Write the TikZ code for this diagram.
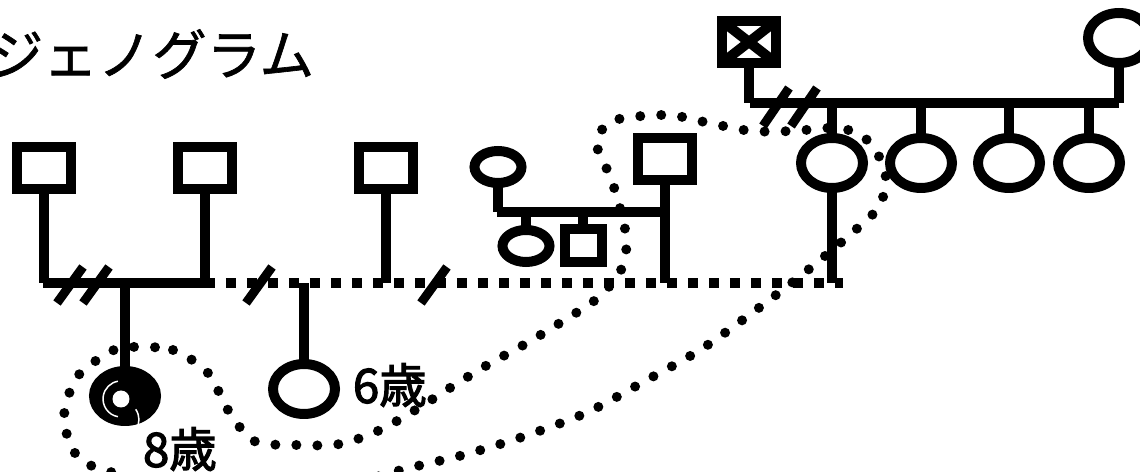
\documentclass[tikz,border=0pt]{standalone}
\usepackage{fontspec}
\newfontfamily\jpfont[FakeBold=1.2]{Noto Sans CJK JP}
\newfontfamily\jpbold[FakeBold=2.5]{Noto Sans CJK JP}
\usetikzlibrary{shapes.geometric}

\begin{document}
\begin{tikzpicture}[
  x=0.02cm, y=-0.02cm,
  every node/.style={inner sep=0pt, outer sep=0pt},
  male/.style={rectangle, draw, line width=0.2cm, minimum width=1.08cm, minimum height=0.84cm},
  kidm/.style={rectangle, draw, line width=0.2cm, minimum width=0.74cm, minimum height=0.66cm},
  female/.style={ellipse, draw, line width=0.2cm, minimum width=1.24cm, minimum height=1.0cm},
  kidf/.style={ellipse, draw, line width=0.2cm, minimum width=0.94cm, minimum height=0.64cm},
  tie/.style={line width=0.2cm},
  apart/.style={line width=0.2cm, dash pattern=on 0.2cm off 0.22cm},
  cut/.style={line width=0.18cm},
  hh/.style={line width=0.2cm, line cap=round, dash pattern=on 0pt off 0.42cm},
  age/.style={font=\jpbold\fontsize{27}{27}\selectfont}
]
\useasboundingbox (0,0) rectangle (1140,472);
\clip (0,0) rectangle (1140,472);

\node[anchor=east, font=\jpfont\fontsize{31}{31}\selectfont] (title) at (314,54) {ジェノグラム};

% left generation
\node[male] (f1) at (44,168) {};
\node[male] (f2) at (205,168) {};
\node[male] (f3) at (386,168) {};
\node[male] (f4) at (665,159) {};
\node[female] (mo) at (832,163) {};
\coordinate (ml) at (43,283);
\coordinate (mr) at (843,283);

\draw[tie] (f1.south) -- (f1.south |- ml);
\draw[tie] (f2.south) -- (f2.south |- ml);
\draw[tie] (f3.south) -- (f3.south |- ml);
\draw[tie] (f4.south) -- (f4.south |- ml);
\draw[tie] (mo.south) -- (mo.south |- ml);
\draw[tie] (ml) -- (f2.south |- ml);
\draw[apart] (f2.south |- ml) -- (mr);
\draw[cut] (70,285) +(-13,18) -- +(13,-18);
\draw[cut] (96,285) +(-13,18) -- +(13,-18);
\draw[cut] (259,285) +(-13,18) -- +(13,-18);
\draw[cut] (434,285) +(-13,18) -- +(13,-18);

% children
\node[female, fill=black] (client) at (125,396) {};
\draw[white, line width=0.03cm] (117.9,416.7) arc[start angle=100, end angle=260, radius=18];
\draw[white, line width=0.03cm] (135.7,409.3) arc[start angle=-35, end angle=35, radius=18];
\node[circle, fill=white, minimum size=0.34cm] (clientin) at (121,399) {};
\node[female] (sis) at (304,389) {};
\draw[tie] (client.north) -- (client.north |- ml);
\draw[tie] (sis.north) -- (sis.north |- ml);
\node[age, anchor=west] (age8) at (143,449) {8歳};
\node[age, anchor=west] (age6) at (353,385) {6歳};

% middle family
\node[kidf] (w2) at (498,167) {};
\coordinate (mm) at (497,212);
\node[kidf] (k1) at (526,246) {};
\node[kidm] (k2) at (583,246) {};
\draw[tie] (w2.south) -- (w2.south |- mm);
\draw[tie] (mm) -- (f4.south |- mm);
\draw[tie] (k1.north) -- (k1.north |- mm);
\draw[tie] (k2.north) -- (k2.north |- mm);

% maternal side
\node[male] (gf) at (749,42) {};
\draw[line width=0.2cm] (gf.north west) -- (gf.south east) (gf.north east) -- (gf.south west);
\node[female] (gm) at (1119,38) {};
\coordinate (mg) at (750,103);
\draw[tie] (gf.south) -- (gf.south |- mg);
\draw[tie] (gm.south) -- (gm.south |- mg);
\draw[tie] (mg) -- (gm.south |- mg);
\draw[cut] (776,107) +(-13,19) -- +(13,-19);
\draw[cut] (804,107) +(-13,19) -- +(13,-19);
\node[female] (s1) at (921,163) {};
\node[female] (s2) at (1009,163) {};
\node[female] (s3) at (1089,163) {};
\draw[tie] (mo.north) -- (mo.north |- mg);
\draw[tie] (s1.north) -- (s1.north |- mg);
\draw[tie] (s2.north) -- (s2.north |- mg);
\draw[tie] (s3.north) -- (s3.north |- mg);

% household
\draw[hh] plot[smooth cycle] coordinates {(130,347) (173,350) (208,373) (228,410) (254,441)
  (297,445) (340,444) (380,430) (417,409) (453,386) (489,364) (527,343) (563,321) (599,297)
  (622,268) (626,235) (612,181) (597,145) (612,121) (667,115) (709,123) (751,131) (793,131)
  (837,128) (865,138) (885,170) (880,205) (852,233) (803,274) (752,313) (700,350) (645,381)
  (588,412) (528,435) (467,454) (405,469) (340,486) (240,500) (118,474) (78,457) (64,418)
  (77,377) (110,352)};
\end{tikzpicture}
\end{document}
